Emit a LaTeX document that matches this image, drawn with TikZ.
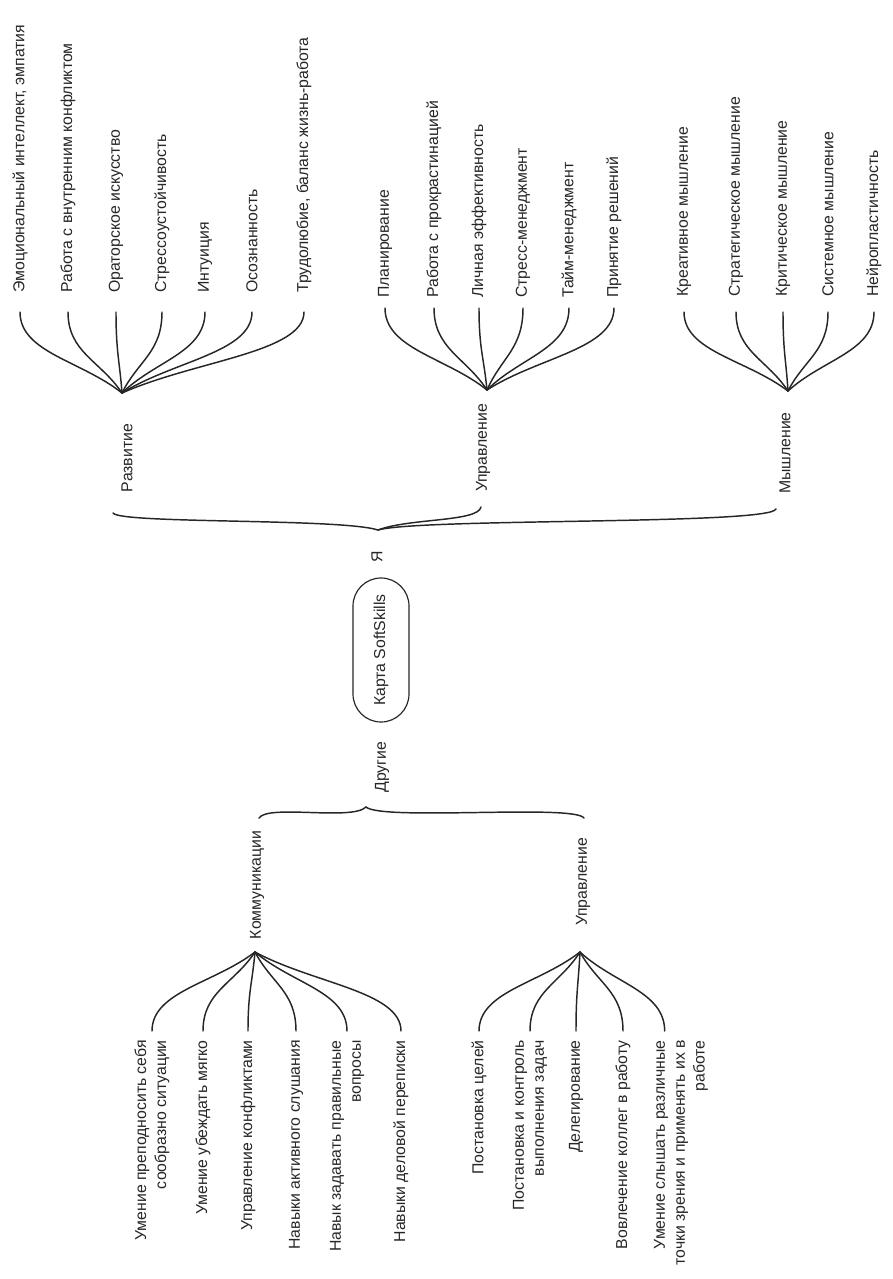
\documentclass[tikz,border=0pt]{standalone}
\usepackage{fontspec}
\setmainfont{Liberation Sans}
\usetikzlibrary{calc,shapes.misc}
\newcommand\fanline[2]{\draw[branch] let \p1=(#1), \p2=(#2) in (#1) .. controls ({\x1+0.4*(\x2-\x1)},{\y1+0.4*(\y2-\y1)}) and ({\x2},{0.5*(\y1+\y2)}) .. (#2);}
\begin{document}
\begin{tikzpicture}[x=0.03cm,y=-0.03cm,
  every node/.style={font=\fontsize{13.5}{17}\selectfont, text=black!85},
  branch/.style={draw=black!85, line width=1.25pt, line cap=round},
  leafup/.style={rotate=90, anchor=west, inner ysep=0pt, align=left},
  leafdn/.style={rotate=90, anchor=east, inner ysep=0pt, inner xsep=0.27cm, align=right},
  catlbl/.style={rotate=90, inner sep=0pt},
  rootbox/.style={rotate=90, draw=black!85, line width=1pt, rounded rectangle, minimum width=4.32cm, minimum height=1.68cm, inner sep=0pt}]
\useasboundingbox (0,0) rectangle (893,1279);

% ---------- category labels and root ----------
\node[catlbl] (razv) at (127,458) {Развитие};
\node[catlbl] (upr) at (483,448) {Управление};
\node[catlbl] (mysl) at (785,453) {Мышление};
\node[catlbl] (ja) at (377,557) {Я};
\node[rootbox] (root) at (381,650) {Карта SoftSkills};
\node[catlbl] (drug) at (382,767) {Другие};
\node[catlbl] (komm) at (257,885) {Коммуникации};
\node[catlbl] (upr2) at (583,882) {Управление};

% ---------- junction points ----------
\coordinate (razvA) at (122,393);
\coordinate (uprA) at (487,390);
\coordinate (myslA) at (788,391);
\coordinate (razvB) at (113,513);
\coordinate (uprB) at (481,507);
\coordinate (myslB) at (776,509);
\coordinate (jaA) at (378,530);
\coordinate (drugA) at (366,807);
\coordinate (kommT) at (259,818);
\coordinate (upr2T) at (584,818);
\coordinate (kommA) at (255,952);
\coordinate (upr2A) at (580,952);

% ---------- Развитие leaves ----------
\node[leafup, inner xsep=0.57cm] (r1) at (20,312) {Эмоциональный интеллект, эмпатия};
\node[leafup, inner xsep=0.57cm] (r2) at (68,312) {Работа с внутренним конфликтом};
\node[leafup, inner xsep=0.57cm] (r3) at (116,312) {Ораторское искусство};
\node[leafup, inner xsep=0.57cm] (r4) at (162,312) {Стрессоустойчивость};
\node[leafup, inner xsep=0.57cm] (r5) at (205,312) {Интуиция};
\node[leafup, inner xsep=0.57cm] (r6) at (252,312) {Осознанность};
\node[leafup, inner xsep=0.57cm] (r7) at (304,312) {Трудолюбие, баланс жизнь-работа};

% ---------- Управление (Я) leaves ----------
\node[leafup, inner xsep=0.30cm] (u1) at (385,308) {Планирование};
\node[leafup, inner xsep=0.30cm] (u2) at (434,308) {Работа с прокрастинацией};
\node[leafup, inner xsep=0.30cm] (u3) at (479,308) {Личная эффективность};
\node[leafup, inner xsep=0.30cm] (u4) at (523,308) {Стресс-менеджмент};
\node[leafup, inner xsep=0.30cm] (u5) at (569,308) {Тайм-менеджмент};
\node[leafup, inner xsep=0.30cm] (u6) at (614,308) {Принятие решений};

% ---------- Мышление leaves ----------
\node[leafup, inner xsep=0.45cm] (m1) at (684,312) {Креативное мышление};
\node[leafup, inner xsep=0.45cm] (m2) at (736,312) {Стратегическое мышление};
\node[leafup, inner xsep=0.45cm] (m3) at (783,312) {Критическое мышление};
\node[leafup, inner xsep=0.45cm] (m4) at (828,312) {Системное мышление};
\node[leafup, inner xsep=0.45cm] (m5) at (874,312) {Нейропластичность};

% ---------- Коммуникации leaves ----------
\node[leafdn] (k1) at (152,1031) {Умение преподносить себя\\сообразно ситуации};
\node[leafdn] (k2) at (203,1031) {Умение убеждать мягко};
\node[leafdn] (k3) at (248,1031) {Управление конфликтами};
\node[leafdn] (k4) at (296,1031) {Навыки активного слушания};
\node[leafdn] (k5) at (347,1031) {Навык задавать правильные\\вопросы};
\node[leafdn] (k6) at (401,1031) {Навыки деловой переписки};

% ---------- Управление (Другие) leaves ----------
\node[leafdn] (v1) at (479,1031) {Постановка целей};
\node[leafdn] (v2) at (530,1031) {Постановка и контроль\\выполнения задач};
\node[leafdn] (v3) at (576,1031) {Делегирование};
\node[leafdn] (v4) at (623,1031) {Вовлечение коллег в работу};
\node[leafdn] (v5) at (681,1031) {Умение слышать различные\\точки зрения и применять их в\\работе};

% ---------- fans ----------
\foreach \lf in {r1,r2,r3,r4,r5,r6,r7} {\fanline{razvA}{\lf.west}}
\foreach \lf in {u1,u2,u3,u4,u5,u6} {\fanline{uprA}{\lf.west}}
\foreach \lf in {m1,m2,m3,m4,m5} {\fanline{myslA}{\lf.west}}
\foreach \lf in {k1,k2,k3,k4,k5,k6} {\fanline{kommA}{\lf.east}}
\foreach \lf in {v1,v2,v3,v4} {\fanline{upr2A}{\lf.east}}
\fanline{upr2A}{$(v5.east)!0.6!(v5.north east)$}

% ---------- braces ----------
\draw[branch] (jaA) .. controls (340,518) and (120,524) .. (razvB);
\draw[branch] (jaA) .. controls (410,518) and (478,522) .. (uprB);
\draw[branch] (jaA) .. controls (420,518) and (770,525) .. (myslB);
\draw[branch] (drugA) .. controls (352,821) and (268,804) .. (kommT);
\draw[branch] (drugA) .. controls (382,821) and (574,804) .. (upr2T);
\end{tikzpicture}
\end{document}
